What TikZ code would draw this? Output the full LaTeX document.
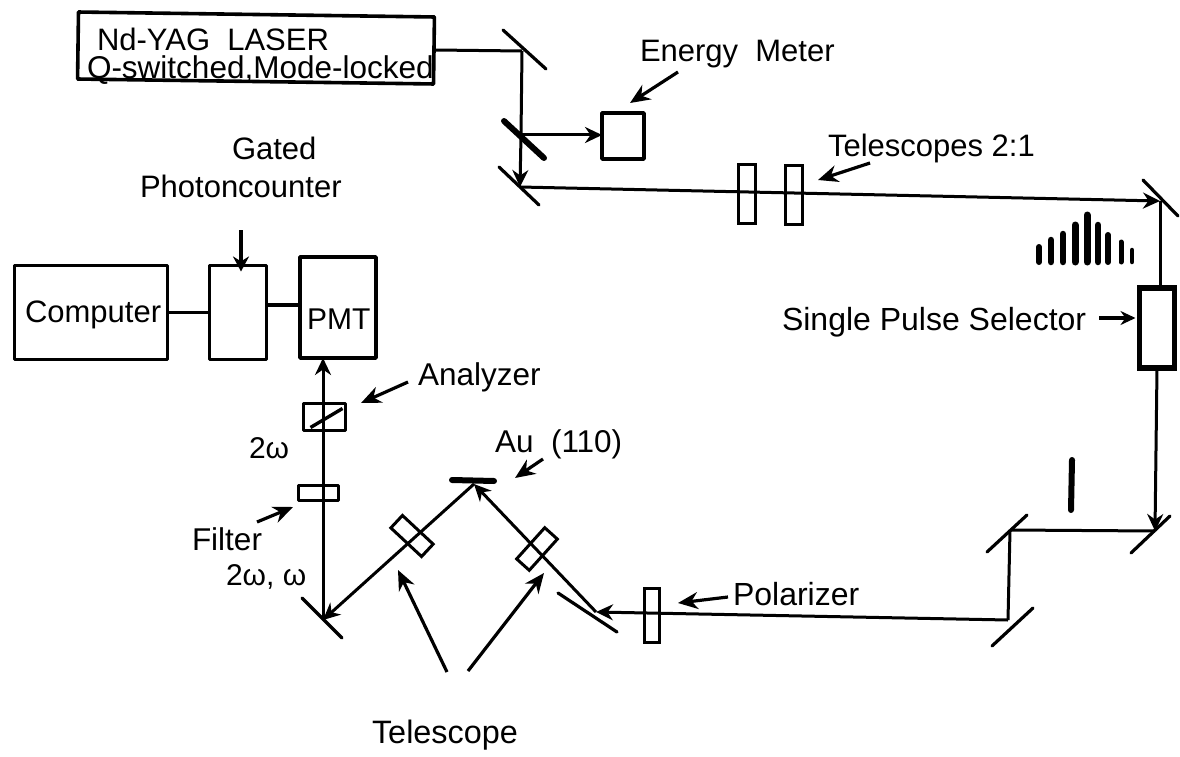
\documentclass[tikz,border=0pt]{standalone}
\usepackage{fontspec}
\setmainfont{Liberation Sans}
\usetikzlibrary{arrows.meta}
\tikzset{
  x=1pt,y=-1pt,
  lbl/.style={inner sep=0pt,outer sep=0pt,anchor=base west,font=\fontsize{31.5}{36}\selectfont},
  lblsmall/.style={lbl,font=\fontsize{30}{34}\selectfont},
  box/.style={draw=black,line width=3.6pt,fill=none,inner sep=0pt,outer sep=0pt,line join=round},
  optic/.style={draw=black,line width=3pt,inner sep=0pt,outer sep=0pt},
  mirror/.style={line width=3.2pt,line cap=round},
  thickmirror/.style={line width=6pt,line cap=round},
  beam/.style={line width=3pt},
  wire/.style={line width=3.2pt},
  tipped/.style={line width=3pt,-{Stealth[length=17pt,width=16pt]}},
  pointer/.style={line width=3.2pt,-{Stealth[length=20pt,width=17pt]}},
  pulsebar/.style={line cap=round},
}
\begin{document}
\begin{tikzpicture}
\useasboundingbox (0,0) rectangle (1180,757);
% coordinates of beam turning points
\coordinate (m1c) at (522,51);
\coordinate (m2c) at (521,135);
\coordinate (m3c) at (520,187);
\coordinate (m4c) at (1160,201);
\coordinate (m5c) at (1155,531);
\coordinate (m6c) at (1010,530);
\coordinate (m7c) at (1008,620);
\coordinate (m8c) at (596,612);
\coordinate (auc) at (474,484);
\coordinate (m9c) at (323,620);
% boxes
\node[box,rotate=-0.8,minimum width=356pt,minimum height=67pt] (laser) at (256,48) {};
\node[box,minimum width=42pt,minimum height=46pt] (meter) at (623,136) {};
\node[optic,minimum width=17pt,minimum height=59pt] (t1) at (747,194) {};
\node[optic,minimum width=17pt,minimum height=59pt] (t2) at (794,195) {};
\node[draw=black,line width=5.5pt,inner sep=0pt,outer sep=0pt,minimum width=35pt,minimum height=80pt] (sps) at (1157,328) {};
\node[optic,minimum width=15pt,minimum height=54pt] (pol) at (652,615) {};
\node[optic,rotate=-42,minimum width=17pt,minimum height=42pt] (tr) at (537,549) {};
\node[optic,rotate=47,minimum width=17pt,minimum height=42pt] (tl) at (412,536) {};
\node[box,minimum width=42pt,minimum height=27pt] (ana) at (324.5,417) {};
\node[box,minimum width=40pt,minimum height=15pt] (fil) at (318.5,493) {};
\node[box,minimum width=153pt,minimum height=94pt] (computer) at (91,312.5) {};
\node[box,minimum width=57pt,minimum height=94pt] (gated) at (238,312.5) {};
\node[box,minimum width=76pt,minimum height=101pt] (pmt) at (338,307.5) {};
% mirrors
\draw[mirror] (503,30) -- (546,69);
\draw[thickmirror] (504,121) -- (544,158);
\draw[mirror] (499,167) -- (539,205);
\draw[mirror] (1143,180) -- (1178,216);
\draw[mirror] (1131,553) -- (1170,516);
\draw[mirror] (987,552) -- (1027,515);
\draw[mirror] (992,646) -- (1033,608);
\draw[mirror] (558,593) -- (617,632);
\draw[mirror] (302,598) -- (342,638);
\draw[thickmirror] (452,480) -- (494,481);
% aperture and pulse train
\draw[pulsebar,line width=6pt] (1072,460) -- (1071,510);
\foreach \px/\pt/\pw in {1039/247/6,1051/240/6.5,1063/234/6.5,1075/225/7,1087/215/7,1098/225/6.5,1108/235/6,1121/242/5,1132/250/4.5}
  \draw[pulsebar,line width=\pw pt] (\px,\pt) -- (\px,262);
% beams
\coordinate (laserout) at (435,50);
\draw[beam] (laserout) -- (m1c);
\draw[beam] (m1c) -- (m2c);
\draw[tipped] (m2c) -- (m3c);
\draw[tipped] (m2c) -- (meter.west |- m2c);
\draw[tipped] (m3c) -- (m4c);
\draw[beam] (m4c) -- (sps.north -| m4c);
\draw[tipped] (sps.south) -- (m5c);
\draw[beam] (m5c) -- (m6c);
\draw[beam] (m6c) -- (m7c);
\draw[tipped] (m7c) -- (m8c);
\draw[tipped] (m8c) -- (auc);
\draw[tipped] (auc) -- (m9c);
\draw[tipped] (m9c) -- (m9c |- pmt.south);
\coordinate (d1) at ([xshift=7pt,yshift=3pt]ana.south west);
\coordinate (d2) at ([xshift=-3pt,yshift=-5pt]ana.north east);
\draw[line width=3.4pt] (d1) -- (d2);
% wires
\draw[wire] (computer) -- (gated);
\coordinate (wireout) at (gated.east |- 0,305);
\draw[wire] (wireout) -- (pmt.west |- wireout);
% pointers
\coordinate (p1) at (678,72); \coordinate (q1) at (630,103);
\draw[pointer] (p1) -- (q1);
\coordinate (p2) at (870,163); \coordinate (q2) at (818,180);
\draw[pointer] (p2) -- (q2);
\coordinate (p3) at (1099,318);
\draw[pointer,-{Stealth[length=15pt,width=14pt]}] (p3) -- ([xshift=-4pt]sps.west |- p3);
\coordinate (p4) at (728,597); \coordinate (q4) at (678,603);
\draw[pointer] (p4) -- (q4);
\coordinate (p5) at (408,382); \coordinate (q5) at (361,403);
\draw[pointer] (p5) -- (q5);
\coordinate (p6) at (543,459); \coordinate (q6) at (515,478);
\draw[pointer] (p6) -- (q6);
\coordinate (p7) at (257,522); \coordinate (q7) at (293,507);
\draw[pointer] (p7) -- (q7);
\coordinate (p8) at (447,672); \coordinate (q8) at (398,570);
\draw[pointer] (p8) -- (q8);
\coordinate (p9) at (468,671); \coordinate (q9) at (544,573);
\draw[pointer] (p9) -- (q9);
\coordinate (p10) at (241,230);
\draw[pointer,-{Stealth[length=15pt,width=16pt]}] (p10) -- ([yshift=-6pt]p10 |- gated.north);
% labels
\node[lbl,font=\fontsize{31}{36}\selectfont] (tx1) at (97,50.5) {Nd-YAG\ \ LASER};
\node[lbl] (tx2) at (87,79) {Q-switched,Mode-locked};
\node[lbl,font=\fontsize{31}{36}\selectfont] (tx3) at (232,160) {Gated};
\node[lbl,font=\fontsize{31}{36}\selectfont] (tx4) at (140,197) {Photoncounter};
\node[lbl,font=\fontsize{31}{36}\selectfont] (tx5) at (25,322) {Computer};
\node[lblsmall] (tx6) at (307,329) {PMT};
\node[lblsmall] (tx7) at (249,458) {2ω};
\node[lbl] (tx8) at (418,385) {Analyzer};
\node[lbl] (tx9) at (495,452) {Au\ \ (110)};
\node[lbl] (tx10) at (192,550) {Filter};
\node[lblsmall] (tx11) at (226,585) {2ω, ω};
\node[lbl,font=\fontsize{32.4}{36}\selectfont] (tx12) at (372,743) {Telescope};
\node[lbl,font=\fontsize{32}{36}\selectfont] (tx13) at (733,605) {Polarizer};
\node[lbl,font=\fontsize{32}{36}\selectfont] (tx14) at (782,330) {Single Pulse Selector};
\node[lbl,font=\fontsize{31}{36}\selectfont] (tx15) at (828,157) {Telescopes 2:1};
\node[lbl,font=\fontsize{31}{36}\selectfont] (tx16) at (640,62) {Energy\ \ Meter};
\end{tikzpicture}
\end{document}
